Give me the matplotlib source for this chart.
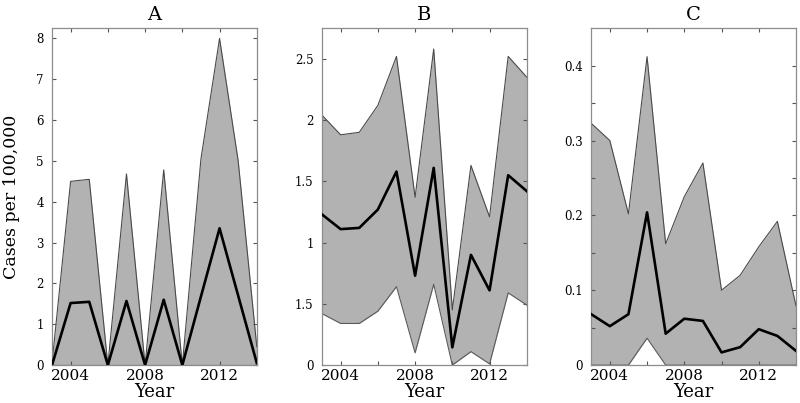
import matplotlib
matplotlib.use("Agg")
import matplotlib.pyplot as plt
import numpy as np

years = list(range(2003, 2015))

# Panel A
a_mean  = [0.0, 1.52, 1.55, 0.0, 1.57, 0.0, 1.60, 0.0, 1.68, 3.35, 1.70, 0.05]
a_upper = [0.05, 4.50, 4.55, 0.0, 4.68, 0.0, 4.78, 0.0, 5.05, 8.00, 5.00, 0.45]
a_lower = [0.0] * 12

# Panel B
b_mean  = [1.23, 1.11, 1.12, 1.27, 1.58, 0.73, 1.61, 0.145, 0.90, 0.61, 1.55, 1.42]
b_upper = [2.04, 1.88, 1.90, 2.12, 2.52, 1.37, 2.58, 0.45, 1.63, 1.21, 2.52, 2.35]
b_lower = [0.42, 0.34, 0.34, 0.44, 0.64, 0.10, 0.66, 0.0, 0.11, 0.01, 0.59, 0.49]

# Panel C
c_mean  = [0.068, 0.052, 0.068, 0.204, 0.042, 0.062, 0.059, 0.017, 0.024, 0.048, 0.039, 0.019]
c_upper = [0.323, 0.300, 0.202, 0.412, 0.162, 0.225, 0.270, 0.100, 0.120, 0.158, 0.192, 0.079]
c_lower = [0.0, 0.0, 0.0, 0.036, 0.0, 0.0, 0.0, 0.0, 0.0, 0.0, 0.0, 0.0]

titles = ["A", "B", "C"]
xtick_major = [2004, 2008, 2012]
xtick_minor = [2006, 2010]

a_yticks = [0, 1, 2, 3, 4, 5, 6, 7, 8]
a_ylabels = ["0", "1", "2", "3", "4", "5", "6", "7", "8"]
b_yticks = [0, 0.5, 1, 1.5, 2, 2.5]
b_ylabels = ["0", "1.5", "1", "1.5", "2", "2.5"]
c_yticks = [0, 0.1, 0.2, 0.3, 0.4]
c_ylabels = ["0", "0.1", "0.2", "0.3", "0.4"]
c_yminor = [0.05, 0.15, 0.25, 0.35]

plt.rcParams['font.family'] = ['DejaVu Serif']

fig = plt.figure(figsize=(8.0, 4.03), dpi=100)
lefts = [0.065, 0.4025, 0.739]
width = 0.256
bottom = 0.094
height = 0.836

panels = [
    (a_mean, a_upper, a_lower, 8.25, a_yticks, a_ylabels, []),
    (b_mean, b_upper, b_lower, 2.75, b_yticks, b_ylabels, []),
    (c_mean, c_upper, c_lower, 0.45, c_yticks, c_ylabels, c_yminor),
]

fill_col = "#b2b2b2"
frame_col = "#8c8c8c"

for i, (m, u, l, ytop, yt, yl, ymin) in enumerate(panels):
    ax = fig.add_axes([lefts[i], bottom, width, height])
    ax.fill_between(years, l, u, color=fill_col, lw=0, zorder=1)
    ax.plot(years, u, color="#4a4a4a", lw=0.8, zorder=2)
    ax.plot(years, l, color="#5a5a5a", lw=0.8, zorder=2)
    ax.plot(years, m, color="black", lw=1.9, zorder=3)
    ax.set_xlim(2003, 2014)
    ax.set_ylim(0, ytop)
    ax.set_xticks(xtick_major)
    ax.set_xticks(xtick_minor, minor=True)
    ax.set_yticks(yt)
    ax.set_yticklabels(yl)
    if ymin:
        ax.set_yticks(ymin, minor=True)
    ax.tick_params(which="both", direction="in", top=True, right=True,
                   length=3, width=0.8, color="#555555")
    ax.tick_params(axis="x", labelsize=11, pad=3)
    ax.tick_params(axis="y", labelsize=8.5, pad=6)
    for s in ax.spines.values():
        s.set_color(frame_col)
        s.set_linewidth(0.9)
    ax.set_title(titles[i], fontsize=14, pad=6)
    ax.set_xlabel("Year", fontsize=13, labelpad=0)
    if i == 0:
        ax.set_ylabel("Cases per 100,000", fontsize=12.5, labelpad=12)

fig.savefig("out.png", dpi=100)
